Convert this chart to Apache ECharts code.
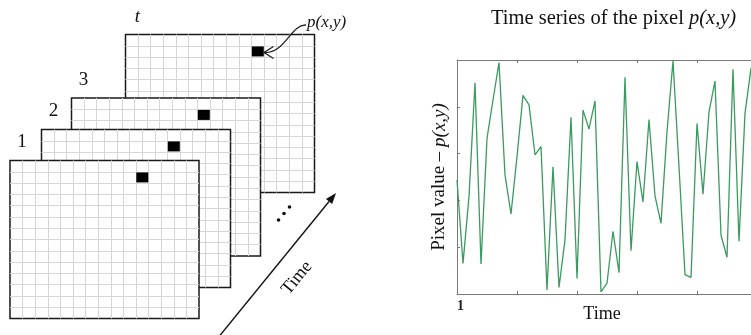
<!DOCTYPE html>
<html>
<head>
<meta charset="utf-8">
<script src="https://cdn.jsdelivr.net/npm/echarts@6/dist/echarts.min.js"></script>
<style>
html, body { margin: 0; padding: 0; background: #fff; }
#main { width: 751px; height: 335px; }
</style>
</head>
<body>
<div id="main"></div>
<script>
// stacked image frames (front to back) and the tracked pixel
var frameLabels = ['1', '2', '3', 't'];
var gridCols = 15;
var gridRows = 14;
var pixelCell = [10, 1];

// time series of the pixel
var times = [];
for (var i = 1; i <= 51; i++) times.push(String(i));
var pixelValues = [
    48.7, 13.1, 41.6, 90.3, 12.8, 66.5, 82.9, 98.9, 50.9, 34.2,
    58.7, 84.9, 80.8, 59.5, 63.0, 1.7, 54.4, 2.8, 23.1, 75.5,
    6.6, 78.6, 70.5, 82.5, 0.9, 4.6, 26.8, 9.1, 92.6, 18.5,
    56.6, 39.3, 74.6, 41.9, 30.2, 69.4, 99.6, 54.4, 8.3, 7.1,
    72.9, 42.7, 77.8, 91.0, 25.2, 15.7, 96.0, 22.5, 77.2, 96.5
];

var serif = 'Liberation Serif';
var myChart = echarts.init(document.getElementById('main'));

var frameBox = [[10, 160.5], [41.5, 129.5], [71.5, 98], [125.5, 34.5]];
var frameW = 189, frameH = 158;

var grids = [], xAxes = [], yAxes = [], series = [], graphics = [];

frameLabels.forEach(function (lab, k) {
    var f = frameBox[k];
    var z = 10 * (frameLabels.length - k);
    var gridLine = {
        show: true, showMinLine: false, showMaxLine: false,
        lineStyle: { color: '#d6d6d6', width: 1 }
    };
    grids.push({
        left: f[0], top: f[1], width: frameW, height: frameH, outerBoundsMode: 'none',
        show: true, backgroundColor: '#fff',
        borderColor: '#1a1a1a', borderWidth: 1.5, z: z
    });
    xAxes.push({
        type: 'value', gridIndex: k, min: 0, max: gridCols, interval: 1, z: z + 1,
        axisLine: { show: false }, axisTick: { show: false }, axisLabel: { show: false },
        splitLine: gridLine
    });
    yAxes.push({
        type: 'value', gridIndex: k, min: 0, max: gridRows, interval: 1, inverse: true, z: z + 1,
        axisLine: { show: false }, axisTick: { show: false }, axisLabel: { show: false },
        splitLine: gridLine
    });
    series.push({
        type: 'scatter', xAxisIndex: k, yAxisIndex: k, z: z + 2, silent: true,
        symbol: 'rect', symbolSize: [12, 10],
        itemStyle: { color: '#000', opacity: 1 },
        data: [[pixelCell[0] + 0.5, pixelCell[1] + 0.5]]
    });
    graphics.push({
        type: 'text', x: f[0] + 12, y: f[1] - 18, z: 100,
        style: {
            text: lab, fill: '#111',
            font: (lab === 't' ? 'italic ' : '') + '19px "' + serif + '"',
            textAlign: 'center', textVerticalAlign: 'middle'
        }
    });
});

// time series panel
var axisGray = '#7a7a7a';
grids.push({ left: 457, top: 60, width: 300, height: 234, outerBoundsMode: 'none' });
xAxes.push({
    type: 'category', gridIndex: 4, data: times, boundaryGap: false, position: 'bottom',
    axisLine: { lineStyle: { color: axisGray, width: 1 } },
    axisTick: { inside: true, length: 3, interval: 9, lineStyle: { color: axisGray } },
    axisLabel: {
        interval: function (idx) { return idx === 0; },
        align: 'left', margin: 5,
        color: '#222', fontFamily: serif, fontSize: 14, fontWeight: 'bold'
    },
    splitLine: { show: false },
    name: 'Time', nameLocation: 'middle', nameGap: 11, nameMoveOverlap: false,
    nameTextStyle: { fontFamily: serif, fontSize: 18, color: '#111', padding: [0, 10, 0, 0] }
});
xAxes.push({
    type: 'category', gridIndex: 4, data: times, boundaryGap: false, position: 'top',
    axisLine: { lineStyle: { color: axisGray, width: 1 } },
    axisTick: { inside: true, length: 3, interval: 9, lineStyle: { color: axisGray } },
    axisLabel: { show: false },
    splitLine: { show: false }
});
yAxes.push({
    type: 'value', gridIndex: 4, min: 0, max: 100, interval: 20,
    axisLine: { show: true, lineStyle: { color: axisGray, width: 1 } },
    axisTick: { show: true, inside: true, length: 3, lineStyle: { color: axisGray } },
    axisLabel: { show: false },
    splitLine: { show: false },
    name: '{n|Pixel value – }{i|p(x,y)}', nameLocation: 'middle', nameGap: 8, nameMoveOverlap: false,
    nameTextStyle: {
        rich: {
            n: { fontFamily: serif, fontSize: 19, color: '#111' },
            i: { fontFamily: serif, fontSize: 19, color: '#111', fontStyle: 'italic' }
        }
    }
});
series.push({
    type: 'line', xAxisIndex: 4, yAxisIndex: 4, data: pixelValues,
    showSymbol: false, silent: true,
    lineStyle: { color: '#3b9a60', width: 1.3 }
});

// "Time" arrow running behind the frames
var a0 = [221.7, 333.3], a1 = [336, 193];
var dx = a1[0] - a0[0], dy = a1[1] - a0[1];
var len = Math.sqrt(dx * dx + dy * dy), ux = dx / len, uy = dy / len;
var hb = [a1[0] - 11 * ux, a1[1] - 11 * uy];
graphics.push(
    { type: 'line', z: 100, shape: { x1: a0[0] - 4 * ux, y1: a0[1] - 4 * uy, x2: hb[0], y2: hb[1] },
      style: { stroke: '#111', lineWidth: 1.4 } },
    { type: 'polygon', z: 100,
      shape: { points: [a1, [hb[0] - 4 * uy, hb[1] + 4 * ux], [hb[0] + 4 * uy, hb[1] - 4 * ux]] },
      style: { fill: '#111' } },
    { type: 'text', x: 297, y: 278, rotation: Math.atan2(-dy, dx), z: 100,
      style: { text: 'Time', font: '18px "' + serif + '"', fill: '#111',
               textAlign: 'center', textVerticalAlign: 'middle' } },
    { type: 'circle', z: 100, shape: { cx: 278.5, cy: 220, r: 1.8 }, style: { fill: '#111' } },
    { type: 'circle', z: 100, shape: { cx: 284, cy: 213.5, r: 1.8 }, style: { fill: '#111' } },
    { type: 'circle', z: 100, shape: { cx: 289.5, cy: 207, r: 1.8 }, style: { fill: '#111' } },
    // callout to the pixel
    { type: 'bezierCurve', z: 100,
      shape: { x1: 306, y1: 25, cpx1: 291, cpy1: 24, cpx2: 285, cpy2: 54, x2: 264, y2: 52.5 },
      style: { stroke: '#222', lineWidth: 1.3, fill: 'none' } },
    { type: 'polyline', z: 100,
      shape: { points: [[273.5, 46.5], [264, 52.5], [273.5, 58.5]] },
      style: { stroke: '#222', lineWidth: 1.3, fill: 'none' } },
    { type: 'text', x: 307, y: 22.5, z: 100,
      style: { text: 'p(x,y)', font: 'italic 17px "' + serif + '"', fill: '#111',
               textAlign: 'left', textVerticalAlign: 'middle' } }
);

option = {
    backgroundColor: '#fff',
    animation: false,
    title: {
        text: '{n|Time series of the pixel }{i|p(x,y)}',
        left: 486, top: 3,
        textStyle: {
            rich: {
                n: { fontFamily: serif, fontSize: 20.5, color: '#111', fontWeight: 'normal' },
                i: { fontFamily: serif, fontSize: 20.5, color: '#111', fontWeight: 'normal', fontStyle: 'italic' }
            }
        }
    },
    grid: grids,
    xAxis: xAxes,
    yAxis: yAxes,
    series: series,
    graphic: { elements: graphics }
};
myChart.setOption(option);
</script>
</body>
</html>
